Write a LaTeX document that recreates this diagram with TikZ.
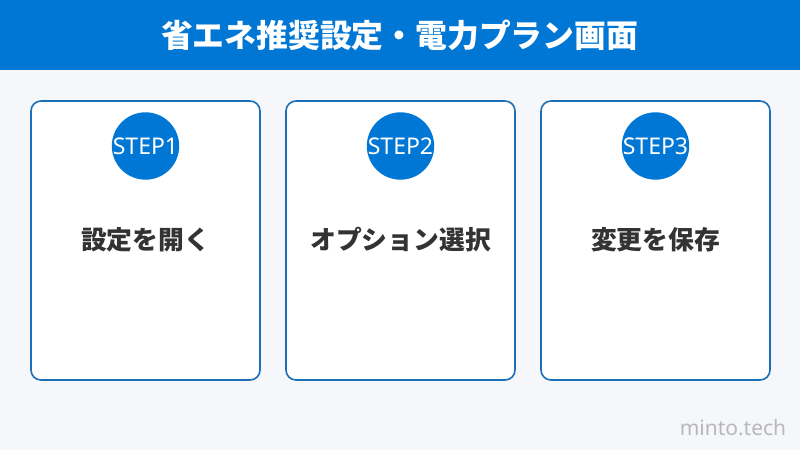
\documentclass[tikz,border=0pt]{standalone}
\usepackage{fontspec}
\setmainfont{Noto Sans}
\newfontfamily\jpfont{Noto Sans CJK JP}
\definecolor{headblue}{HTML}{0077D4}
\definecolor{cardline}{HTML}{1B6FB8}
\definecolor{pagebg}{HTML}{F5F7FA}
\definecolor{labelgray}{HTML}{333333}

\begin{document}
\begin{tikzpicture}[x=1pt,y=-1pt,
   card/.style={draw=cardline,line width=1.6pt,fill=white,rounded corners=10pt},
   stepdot/.style={circle,fill=headblue,minimum size=49pt,inner sep=0pt,text=white,font=\fontsize{23}{23}\selectfont},
   steplabel/.style={text=labelgray,font=\jpfont\bfseries\fontsize{25.8}{26}\selectfont}]
   \useasboundingbox (0,0) rectangle (800,450);
   \fill[pagebg] (0,0) rectangle (800,450);
   \fill[headblue] (0,0) rectangle (800,70);
   \node (title) at (399.5,35) [text=white,font=\jpfont\bfseries\fontsize{31.8}{32}\selectfont] {省エネ推奨設定・電力プラン画面};
   \draw[card] (31,101) rectangle (260,380);
   \draw[card] (286,101) rectangle (515,380);
   \draw[card] (541,101) rectangle (770,380);
   \node (dot1) at (145.5,146) [stepdot] {STEP1};
   \node (dot2) at (400.5,146) [stepdot] {STEP2};
   \node (dot3) at (655.5,146) [stepdot] {STEP3};
   \node (label1) at (145.5,240) [steplabel] {設定を開く};
   \node (label2) at (400.5,240) [steplabel] {オプション選択};
   \node (label3) at (655.5,240) [steplabel] {変更を保存};
   \node (brand) at (733,428) [text=black!28,font=\fontsize{21}{21}\selectfont] {minto.tech};
\end{tikzpicture}
\end{document}
